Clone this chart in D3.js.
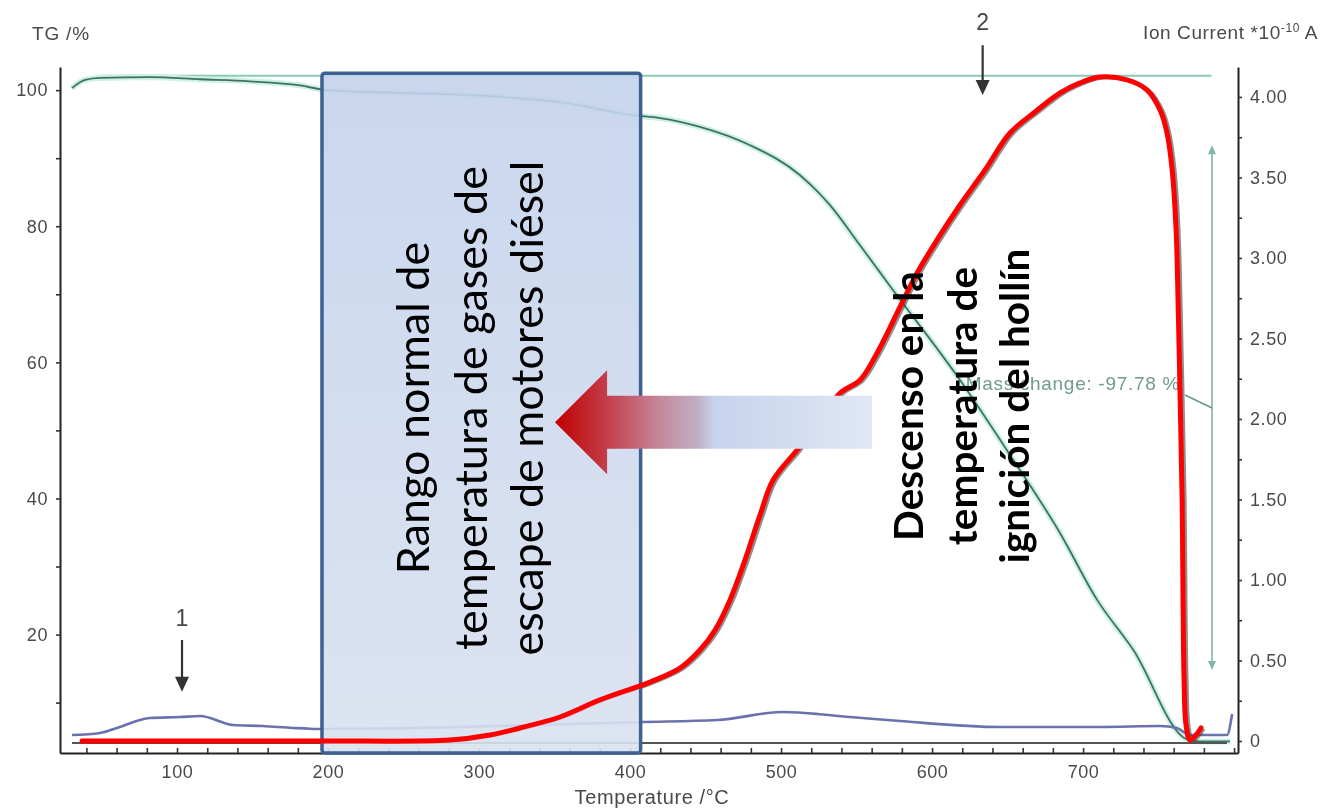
<!DOCTYPE html>
<html>
<head>
<meta charset="utf-8">
<script src="https://cdn.jsdelivr.net/npm/d3@7"></script>
<style>
body{margin:0;background:#fff;}
svg text{font-family:"Liberation Sans",Arial,sans-serif;}
</style>
</head>
<body>
<svg id="chart" width="1326" height="808"></svg>
<script>
// TG curve (temperature °C / mass %)
var tgTemp = [30.4, 39.1, 49.0, 82.1, 115.2, 148.3, 181.4, 199.3, 247.7, 292.0, 327.1, 358.3, 402.0, 419.9, 446.3, 479.5, 512.6, 532.4, 552.3, 574.2, 618.5, 651.6, 684.8, 709.3, 733.1, 768.9, 777.5, 797.3];
var tgMass = [100.3, 101.5, 101.8, 101.9, 101.6, 101.3, 100.7, 100.0, 99.6, 99.3, 98.8, 98.1, 96.3, 95.9, 94.6, 91.9, 87.5, 83.1, 77.2, 70.6, 57.4, 46.4, 34.9, 25.1, 17.8, 4.6, 4.3, 4.3];
var tgRefLevel = 102.1;
var tgRefTemp = [49, 785];

// blue ion current (*10-10 A)
var blueTemp = [30.4, 49.0, 60.2, 82.1, 102.0, 115.2, 137.1, 156.9, 176.8, 194.7, 408.6, 457.6, 501.3, 545.7, 578.8, 645.0, 711.2, 751.0, 762.2, 770.8, 795.3, 798.7];
var blueIon = [0.037, 0.050, 0.081, 0.143, 0.149, 0.155, 0.099, 0.093, 0.081, 0.075, 0.118, 0.130, 0.180, 0.149, 0.124, 0.087, 0.087, 0.093, 0.081, 0.037, 0.037, 0.168];

// dark baseline ion current
var baseTemp = [30.4, 795.3];
var baseIon = [-0.012, -0.012];

// red hand-drawn ion current (soot burn)
var redTemp = [37.1, 196.0, 280.8, 307.3, 327.1, 353.6, 380.1, 413.2, 433.1, 446.3, 456.3, 466.2, 476.1, 486.1, 494.7, 510.6, 525.8, 539.1, 552.3, 563.6, 578.8, 590.1, 603.3, 618.5, 635.1, 651.6, 668.2, 684.8, 698.0, 711.2, 729.1, 742.4, 751.0, 755.6, 759.0, 761.6, 762.9, 764.3, 765.6, 766.2, 766.9, 768.2, 770.8, 774.8, 778.1];
var redIon = [0.000, 0.000, 0.006, 0.037, 0.081, 0.149, 0.255, 0.366, 0.453, 0.565, 0.689, 0.876, 1.124, 1.404, 1.621, 1.807, 1.994, 2.161, 2.242, 2.410, 2.696, 2.907, 3.112, 3.329, 3.547, 3.776, 3.907, 4.025, 4.087, 4.124, 4.106, 4.043, 3.919, 3.776, 3.547, 3.174, 2.739, 2.118, 1.497, 0.876, 0.379, 0.099, 0.006, 0.037, 0.081];

// ticks
var xTickLabels = [100, 200, 300, 400, 500, 600, 700];
var tgTickLabels = [20, 40, 60, 80, 100];
var ionTickLabels = [0, 0.5, 1, 1.5, 2, 2.5, 3, 3.5, 4];

// annotations
var boxTemp = [196, 407];
var boxTopTG = 102.5;
var boxLines = ['Rango normal de', 'temperatura de gases de', 'escape de motores diésel'];
var noteLines = ['Descenso en la', 'temperatura de', 'ignición del hollín'];
var noteTemp = 620.5;
var arrowTemp = [350.3, 384.8, 560.3];   // tip, head base, tail
var arrowIon = 1.98;
var markTemp = [103.3, 633.5];
var markLabel = ['1', '2'];
var markShaftTG = [19.2, 106.6];
var markTipTG = [11.6, 99.3];
var markTextTG = [21.3, 108.8];
var massChangeText = 'Mass change: -97.78 %';
var massChangeTemp = 785.4;
var massChangeTG = [91.9, 14.8];

var x = d3.scaleLinear().domain([22.5, 802.6]).range([60, 1238]);
var yTG = d3.scaleLinear().domain([2.6, 103.4]).range([753, 67]);
var yIon = d3.scaleLinear().domain([-0.0745, 4.186]).range([753, 67]);

var svg = d3.select('#chart');
var defs = svg.append('defs');
defs.append('filter').attr('id', 'soft').append('feGaussianBlur').attr('stdDeviation', 0.55);

var boxGrad = defs.append('linearGradient').attr('id', 'boxFill')
  .attr('x1', 0).attr('y1', 0).attr('x2', 0).attr('y2', 1);
boxGrad.append('stop').attr('offset', '0%').attr('stop-color', '#c3d2ec');
boxGrad.append('stop').attr('offset', '100%').attr('stop-color', '#d9e1f0');

var arrowGrad = defs.append('linearGradient').attr('id', 'arrowFill')
  .attr('gradientUnits', 'userSpaceOnUse')
  .attr('x1', x(arrowTemp[0])).attr('x2', x(arrowTemp[2])).attr('y1', 0).attr('y2', 0);
[[0, '#c00000'], [0.17, '#c4404d'], [0.33, '#c4889c'], [0.45, '#c1aec4'], [0.5, '#c5d3ec'], [1, '#e1e7f5']]
  .forEach(function(s){
    arrowGrad.append('stop').attr('offset', s[0]).attr('stop-color', s[1]);
  });

var base = svg.append('g').attr('filter', 'url(#soft)');

function zip(a, b){ return a.map(function(d, i){ return [d, b[i]]; }); }

//TG reference line and curve
base.append('line')
  .attr('x1', x(tgRefTemp[0])).attr('x2', x(tgRefTemp[1]))
  .attr('y1', yTG(tgRefLevel)).attr('y2', yTG(tgRefLevel))
  .attr('stroke', '#8cc8b4').attr('stroke-width', 2);

var tgLine = d3.line().x(function(d){ return x(d[0]); }).y(function(d){ return yTG(d[1]); })
  .curve(d3.curveMonotoneX);
base.append('path').datum(zip(tgTemp, tgMass)).attr('d', tgLine)
  .attr('fill', 'none').attr('stroke', '#cdf1e6').attr('stroke-width', 6);
base.append('path').datum(zip(tgTemp, tgMass)).attr('d', tgLine)
  .attr('fill', 'none').attr('stroke', '#3f7264').attr('stroke-width', 1.8);

//ion curves
var ionLine = d3.line().x(function(d){ return x(d[0]); }).y(function(d){ return yIon(d[1]); })
  .curve(d3.curveMonotoneX);
base.append('path').datum(zip(baseTemp, baseIon)).attr('d', ionLine)
  .attr('fill', 'none').attr('stroke', '#555').attr('stroke-width', 2);
base.append('path').datum(zip(blueTemp, blueIon)).attr('d', ionLine)
  .attr('fill', 'none').attr('stroke', '#6b72ad').attr('stroke-width', 2.6);

var redLine = d3.line().x(function(d){ return x(d[0]); }).y(function(d){ return yIon(d[1]); })
  .curve(d3.curveCatmullRom.alpha(0.5));
base.append('path').datum(zip(redTemp, redIon)).attr('d', redLine)
  .attr('fill', 'none').attr('stroke', '#444').attr('stroke-width', 3).attr('opacity', 0.6)
  .attr('transform', 'translate(3,1)');

//mass change marker
var mcx = x(massChangeTemp);
base.append('line').attr('x1', mcx).attr('x2', mcx)
  .attr('y1', yTG(massChangeTG[0]) + 6).attr('y2', yTG(massChangeTG[1]) - 6)
  .attr('stroke', '#7fb8a5').attr('stroke-width', 1.6);
base.append('path')
  .attr('d', 'M' + mcx + ',' + yTG(massChangeTG[0]) + 'l-4,9h8z' +
             'M' + mcx + ',' + yTG(massChangeTG[1]) + 'l-4,-9h8z')
  .attr('fill', '#7fb8a5');
base.append('line')
  .attr('x1', x(767.5)).attr('y1', yTG(55.2)).attr('x2', mcx).attr('y2', yTG(53.3))
  .attr('stroke', '#6a9a86').attr('stroke-width', 1.5);
base.append('text').attr('x', x(764.2)).attr('y', yTG(57) + 7)
  .attr('text-anchor', 'end').style('font-size', '19px').style('letter-spacing', '0.7px')
  .attr('fill', '#6f9c88')
  .text(massChangeText);

//numbered arrows
markTemp.forEach(function(t, i){
  var mx = x(t), tip = yTG(markTipTG[i]);
  base.append('line').attr('x1', mx).attr('x2', mx)
    .attr('y1', yTG(markShaftTG[i])).attr('y2', tip - 12)
    .attr('stroke', '#333').attr('stroke-width', 2.2);
  base.append('path').attr('d', 'M' + mx + ',' + tip + 'l-7,-15h14z').attr('fill', '#333');
  base.append('text').attr('x', mx).attr('y', yTG(markTextTG[i]))
    .attr('text-anchor', 'middle').style('font-size', '23px').attr('fill', '#444')
    .text(markLabel[i]);
});

//axes
var xAxis = d3.axisBottom(x).tickValues(d3.range(40, 801, 20)).tickSize(-5).tickSizeOuter(0).tickPadding(12)
  .tickFormat(function(d){ return xTickLabels.indexOf(d) >= 0 ? d : ''; });
var leftAxis = d3.axisLeft(yTG).tickValues(d3.range(10, 101, 10)).tickSize(4).tickSizeOuter(0).tickPadding(8)
  .tickFormat(function(d){ return tgTickLabels.indexOf(d) >= 0 ? d : ''; });
var rightAxis = d3.axisRight(yIon).tickValues(d3.range(0, 4.01, 0.25)).tickSize(4).tickSizeOuter(0).tickPadding(8)
  .tickFormat(function(d){
    if (ionTickLabels.indexOf(d) < 0) return '';
    return d === 0 ? '0' : d.toFixed(2);
  });

var gx = base.append('g').attr('transform', 'translate(0,753)').call(xAxis);
var gl = base.append('g').attr('transform', 'translate(60,0)').call(leftAxis);
var gr = base.append('g').attr('transform', 'translate(1238,0)').call(rightAxis);
[gx, gl, gr].forEach(function(g){
  g.select('.domain').attr('stroke', '#222').attr('stroke-width', 2);
  g.selectAll('.tick line').attr('stroke', '#333').attr('stroke-width', 1.6);
  g.selectAll('.tick text').attr('fill', '#4a4a4a')
    .style('font-size', '18px').style('letter-spacing', '0.6px')
    .style('font-family', '"Liberation Sans",Arial,sans-serif');
});

//axis titles
base.append('text').attr('x', 32).attr('y', 40).style('font-size', '19px').style('letter-spacing', '0.8px')
  .attr('fill', '#4a4a4a').text('TG /%');
base.append('text').attr('x', 652).attr('y', 804).attr('text-anchor', 'middle')
  .style('font-size', '20px').style('letter-spacing', '0.6px').attr('fill', '#4a4a4a').text('Temperature /°C');
var ionTitle = base.append('text').attr('x', 1143).attr('y', 39).style('font-size', '19px')
  .style('letter-spacing', '0.6px').attr('fill', '#4a4a4a');
ionTitle.append('tspan').text('Ion Current *10');
ionTitle.append('tspan').attr('dy', -7).style('font-size', '12px').text('-10');
ionTitle.append('tspan').attr('dy', 7).text(' A');

//range box
var bx0 = x(boxTemp[0]), bx1 = x(boxTemp[1]);
svg.append('rect')
  .attr('x', bx0).attr('y', yTG(boxTopTG))
  .attr('width', bx1 - bx0).attr('height', yTG.range()[0] - yTG(boxTopTG))
  .attr('rx', 3)
  .attr('fill', 'url(#boxFill)').attr('fill-opacity', 0.9)
  .attr('stroke', '#3d6193').attr('stroke-width', 3.5);

function verticalText(lines, xs, cy, weight, target){
  var t = svg.append('g').selectAll('text').data(lines).enter().append('text')
    .attr('transform', function(d, i){ return 'translate(' + xs[i] + ',' + cy + ') rotate(-90)'; })
    .attr('text-anchor', 'middle').attr('dy', '0.35em')
    .style('font-family', 'Lato, "Open Sans", sans-serif')
    .style('font-weight', weight).style('font-size', '40px').attr('fill', '#000')
    .text(function(d){ return d; });
  var longest = 0;
  t.each(function(){ longest = Math.max(longest, this.getComputedTextLength()); });
  t.style('font-size', (40 * target / longest) + 'px');
}

var bmid = (bx0 + bx1) / 2;
verticalText(boxLines, [bmid - 68, bmid - 10, bmid + 46], 408, 400, 495);

//red curve
svg.append('path').datum(zip(redTemp, redIon)).attr('d', redLine)
  .attr('fill', 'none').attr('stroke', '#ff0000').attr('stroke-width', 5)
  .attr('stroke-linecap', 'round').attr('stroke-linejoin', 'round');

//block arrow
var ay = yIon(arrowIon), ax0 = x(arrowTemp[0]), ax1 = x(arrowTemp[1]), ax2 = x(arrowTemp[2]);
svg.append('path')
  .attr('d', 'M' + ax0 + ',' + ay + 'L' + ax1 + ',' + (ay - 52) + 'V' + (ay - 26.5) + 'H' + ax2 +
             'V' + (ay + 26.5) + 'H' + ax1 + 'V' + (ay + 52) + 'Z')
  .attr('fill', 'url(#arrowFill)');

var nmid = x(noteTemp);
verticalText(noteLines, [nmid - 54, nmid, nmid + 52], 406, 700, 315);
</script>
</body>
</html>
